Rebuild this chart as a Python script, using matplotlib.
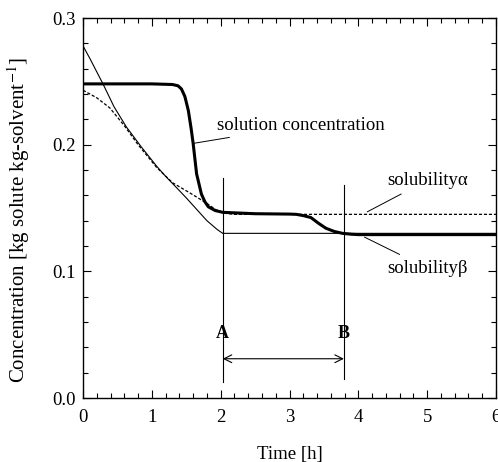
import numpy as np
import matplotlib.pyplot as plt
from matplotlib.ticker import MultipleLocator

plt.rcParams['font.family'] = ['Liberation Serif', 'DejaVu Serif']
plt.rcParams['mathtext.fontset'] = 'stix'

# solution concentration (thick line)
sol_t = [0.0, 1.0, 1.3, 1.38, 1.43, 1.48, 1.53, 1.57, 1.60, 1.65, 1.72, 1.77, 1.82, 1.92, 2.03, 2.5, 3.0, 3.1, 3.2, 3.31, 3.42, 3.53, 3.65, 3.77, 3.9, 4.0, 5.0, 6.0]
sol_c = [0.248, 0.248, 0.2475, 0.2465, 0.244, 0.238, 0.227, 0.213, 0.201, 0.177, 0.161, 0.155, 0.151, 0.148, 0.1466, 0.1455, 0.1452, 0.145, 0.144, 0.1425, 0.138, 0.134, 0.1315, 0.130, 0.1293, 0.129, 0.129, 0.129]

# solubility alpha (dashed)
alpha_t = [0.0, 0.2, 0.39, 0.6, 0.8, 1.07, 1.3, 1.55, 1.79, 1.92, 2.03, 2.2, 6.0]
alpha_c = [0.243, 0.237, 0.229, 0.215, 0.200, 0.182, 0.170, 0.162, 0.154, 0.149, 0.146, 0.145, 0.145]

# solubility beta (thin solid)
beta_t = [0.0, 0.1, 0.29, 0.45, 0.63, 0.85, 1.07, 1.2, 1.36, 1.5, 1.65, 1.8, 1.95, 2.03, 6.0]
beta_c = [0.278, 0.268, 0.248, 0.230, 0.214, 0.198, 0.183, 0.175, 0.166, 0.158, 0.149, 0.140, 0.133, 0.130, 0.130]

t_A, t_B = 2.03, 3.79

fig = plt.figure(figsize=(4.98, 4.62), dpi=100)
ax = fig.add_axes([0.1667, 0.1385, 0.8293, 0.8225])

ax.plot(beta_t, beta_c, color='black', lw=0.8)
ax.plot(alpha_t, alpha_c, color='black', lw=0.9, ls=(0, (2.5, 1.5)))
ax.plot(sol_t, sol_c, color='black', lw=2.2)

# A and B markers
ax.plot([t_A, t_A], [0.013, 0.174], color='black', lw=0.8)
ax.plot([t_B, t_B], [0.015, 0.168], color='black', lw=0.8)
ax.text(t_A, 0.051, 'A', ha='center', va='center', fontsize=13, fontweight='bold')
ax.text(t_B, 0.051, 'B', ha='center', va='center', fontsize=13, fontweight='bold')
ax.annotate('', xy=(t_A, 0.031), xytext=(t_B, 0.031),
            arrowprops=dict(arrowstyle='<->', color='black', lw=0.8, mutation_scale=14,
                            shrinkA=0, shrinkB=0))

# curve labels
ax.annotate('solution concentration', xy=(1.60, 0.201), xytext=(1.94, 0.215),
            fontsize=13.5, va='center', ha='left',
            arrowprops=dict(arrowstyle='-', color='black', lw=0.7, shrinkA=2, shrinkB=0))
ax.annotate('solubilityα', xy=(4.13, 0.147), xytext=(4.42, 0.172),
            fontsize=13.5, va='center', ha='left',
            arrowprops=dict(arrowstyle='-', color='black', lw=0.7, shrinkA=4, shrinkB=0))
ax.annotate('solubilityβ', xy=(4.09, 0.127), xytext=(4.42, 0.1025),
            fontsize=13.5, va='center', ha='left',
            arrowprops=dict(arrowstyle='-', color='black', lw=0.7, shrinkA=4, shrinkB=0))

ax.set_xlim(0, 6)
ax.set_ylim(0, 0.3)
ax.xaxis.set_major_locator(MultipleLocator(1))
ax.xaxis.set_minor_locator(MultipleLocator(0.2))
ax.yaxis.set_major_locator(MultipleLocator(0.1))
ax.yaxis.set_minor_locator(MultipleLocator(0.02))
ax.yaxis.set_major_formatter(plt.FormatStrFormatter('%.1f'))
ax.tick_params(which='both', direction='in', top=True, right=True, labelsize=13.5)
ax.tick_params(axis='x', pad=8)
ax.tick_params(axis='y', pad=5)
ax.tick_params(which='major', length=6, width=0.8)
ax.tick_params(which='minor', length=3.5, width=0.8)
for s in ax.spines.values():
    s.set_linewidth(1.0)

ax.set_xlabel('Time [h]', fontsize=13.5, labelpad=14)
ax.set_ylabel(r'Concentration [kg solute kg-solvent$^{-1}$]', fontsize=15)
ax.yaxis.set_label_coords(-0.123, 0.468)

fig.savefig('out.png', dpi=100)
